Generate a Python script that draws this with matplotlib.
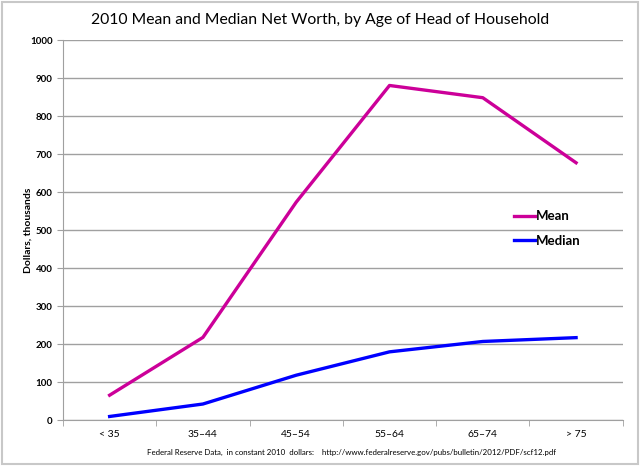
import numpy as np
import matplotlib.pyplot as plt
from matplotlib.patches import Rectangle

ages = ["< 35", "35\u201344", "45\u201354", "55\u201364", "65\u201374", "> 75"]
mean_worth = [65.3, 217.4, 573.4, 880.5, 848.3, 677.1]
median_worth = [9.3, 42.1, 117.9, 179.4, 206.7, 216.8]

plt.rcParams["font.family"] = ["Lato", "DejaVu Sans"]

fig = plt.figure(figsize=(6.4, 4.66), dpi=100)
fig.patches.append(Rectangle((0.003, 0.004), 0.994, 0.992, transform=fig.transFigure,
                             fill=False, edgecolor="#c8c8c8", linewidth=1.5))
ax = fig.add_axes([0.0984, 0.0987, 0.8746, 0.8153])

x = np.arange(len(ages))
ax.plot(x, mean_worth, color="#cc0099", linewidth=2.4, label="Mean")
ax.plot(x, median_worth, color="#0000ff", linewidth=2.4, label="Median")

ax.set_xlim(-0.5, len(ages) - 0.5)
ax.set_ylim(0, 1000)
ax.set_yticks(np.arange(0, 1001, 100))
ax.yaxis.grid(True, color="#a0a0a0", linewidth=1)
ax.set_axisbelow(True)

ax.set_xticks(x)
ax.set_xticklabels(ages, fontsize=7.5)
ax.set_xticks(np.arange(-0.5, len(ages)), minor=True)
ax.tick_params(axis="x", which="major", length=0, pad=7)
ax.tick_params(axis="x", which="minor", length=4, color="#a0a0a0")
ax.tick_params(axis="y", length=4, color="#a0a0a0", labelsize=7)
for lab in ax.get_yticklabels():
    lab.set_fontweight("bold")

for s in ["top", "right"]:
    ax.spines[s].set_visible(False)
for s in ["left", "bottom"]:
    ax.spines[s].set_color("#a0a0a0")

ax.set_ylabel("Dollars, thousands", fontsize=7.5, fontweight="bold")
ax.yaxis.set_label_coords(-0.055, 0.5)

fig.text(0.5, 0.957, "2010 Mean and Median Net Worth, by Age of Head of Household",
         fontsize=11.3, ha="center", va="center")

ax.legend(loc="upper left", bbox_to_anchor=(0.784, 0.583), frameon=False,
          handlelength=1.6, handletextpad=0.1, labelspacing=0.95,
          prop={"size": 9.5, "weight": "bold"})

fig.text(0.23, 0.03, "Federal Reserve Data,  in constant 2010  dollars:    "
         "http://www.federalreserve.gov/pubs/bulletin/2012/PDF/scf12.pdf",
         fontsize=5.7, ha="left", va="center")

fig.savefig("out.png", dpi=100)
